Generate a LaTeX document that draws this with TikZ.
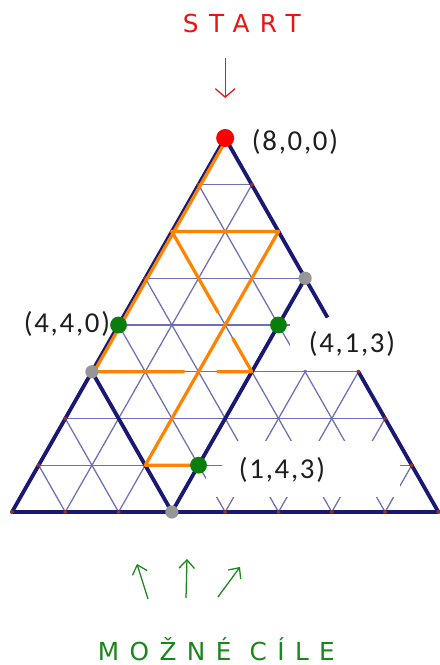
\documentclass[tikz,border=0pt]{standalone}
\usepackage{fontspec}
\setmainfont{Carlito}
\newfontfamily\labelfont{Carlito}[LetterSpace=6]
\newfontfamily\handfont{DejaVu Sans}[LetterSpace=42]
\usepackage{tikz}
\usetikzlibrary{arrows.meta, calc}
\definecolor{navy}{RGB}{25,25,115}
\definecolor{gridblue}{RGB}{110,110,185}
\definecolor{pathorange}{RGB}{255,130,0}
\definecolor{dotgreen}{RGB}{10,125,10}
\definecolor{dotgray}{RGB}{150,150,150}
\definecolor{dotbrown}{RGB}{140,50,40}
\definecolor{labelgray}{RGB}{30,30,30}
\definecolor{handred}{RGB}{235,20,20}
\definecolor{handgreen}{RGB}{25,135,25}

\begin{document}
\begin{tikzpicture}[x=1.3325cm, y=1.16875cm, line join=round,
  gridline/.style={gridblue, line width=0.9pt},
  rim/.style={navy, line width=2.7pt},
  route/.style={pathorange, line width=2.3pt},
  bigdot/.style={circle, inner sep=0pt, minimum size=#1},
  smalldot/.style={circle, inner sep=0pt, minimum size=0.1cm, fill=dotbrown},
  coordtext/.style={font=\labelfont\fontsize{20.5}{24}\selectfont, text=labelgray},
  handtext/.style={font=\handfont\fontsize{17.6}{20}\selectfont}]
  \useasboundingbox (-0.225,-3.273) rectangle (8.030,10.952);
  % lattice points (a,b,c) with a+b+c=8
  \foreach \a in {0,...,8} {
    \pgfmathtruncatemacro{\cmax}{8-\a}
    \foreach \c in {0,...,\cmax} {
      \pgfmathtruncatemacro{\b}{8-\a-\c}
      \coordinate (p\a\b\c) at (\a/2+\c, \a);
    }
  }
  % thin grid
  \foreach \k in {1,...,7} {
    \pgfmathtruncatemacro{\r}{8-\k}
    \draw[gridline] (p\k\r0) -- (p\k0\r);
    \draw[gridline] (p0\r\k) -- (p\r0\k);
    \draw[gridline] (p0\k\r) -- (p\r\k0);
  }
  % erased parts behind the labels
  \fill[white] (5.216,3.03) rectangle (8.12,4.15);
  \fill[white] (3.94,0.321) rectangle (7.28,1.519);
  \fill[white] (3.64,0.321) rectangle (3.94,0.813);
  % thick borders
  \coordinate (rcut) at ($(p800)!0.48!(p008)$);
  \draw[rim] (rcut) -- (p800) -- (p080) -- (p008) -- (p305);
  \draw[rim] (p503) -- (p053);
  \draw[rim] (p350) -- (p053);
  % boundary points
  \foreach \p in {p710,p620,p530,p260,p170,p701,p602,p305,p206,p107,
                  p080,p071,p062,p044,p035,p026,p017,p008}
    \node[smalldot] at (\p) {};
  % orange route
  \draw[route] ([xshift=1.5pt]p800) -- ([xshift=1.5pt]p350);
  \draw[route] (p350) -- ($(p350)!0.58!(p323)$);
  \draw[route] ($(p350)!0.78!(p323)$) -- (p323) -- ($(p323)!0.24!(p620)$);
  \draw[route] ($(p323)!0.42!(p620)$) -- (p620) -- (p602) -- (p152) -- (p143);
  % marked states
  \node[bigdot=0.45cm, fill=red] (start) at (p800) {};
  \node[bigdot=0.42cm, fill=dotgreen] (g440) at (p440) {};
  \node[bigdot=0.42cm, fill=dotgreen] (g413) at (p413) {};
  \node[bigdot=0.42cm, fill=dotgreen] (g143) at (p143) {};
  \node[bigdot=0.33cm, fill=dotgray] (c503) at (p503) {};
  \node[bigdot=0.33cm, fill=dotgray] (c350) at (p350) {};
  \node[bigdot=0.33cm, fill=dotgray] (c053) at (p053) {};
  % labels
  \node[coordtext] (l800) at (5.31,7.914) {(8,0,0)};
  \node[coordtext] (l440) at (1.032,4.021) {(4,4,0)};
  \node[coordtext] (l413) at (6.379,3.594) {(4,1,3)};
  \node[coordtext] (l143) at (5.066,0.898) {(1,4,3)};
  % handwritten notes
  \node[handtext, text=handred, anchor=base west] (starttext) at (3.114,10.246) {START};
  \coordinate (s-tail) at (4,9.711);
  \coordinate (s-head) at (4,8.856);
  \draw[-{Straight Barb[length=6pt,width=14pt]}, handred, line width=0.9pt] (s-tail) -- (s-head);
  \node[handtext, text=handgreen, anchor=base west] (goaltext) at (1.52,-3.166) {MOŽNÉ CÍLE};
  \coordinate (g1-tail) at (2.552,-1.861);
  \coordinate (g1-head) at (2.345,-1.112);
  \coordinate (g2-tail) at (3.265,-1.840);
  \coordinate (g2-head) at (3.283,-1.005);
  \coordinate (g3-tail) at (3.865,-1.818);
  \coordinate (g3-head) at (4.278,-1.176);
  \foreach \g in {g1,g2,g3}
    \draw[-{Straight Barb[length=6pt,width=11pt]}, handgreen, line width=0.9pt] (\g-tail) -- (\g-head);
\end{tikzpicture}
\end{document}
